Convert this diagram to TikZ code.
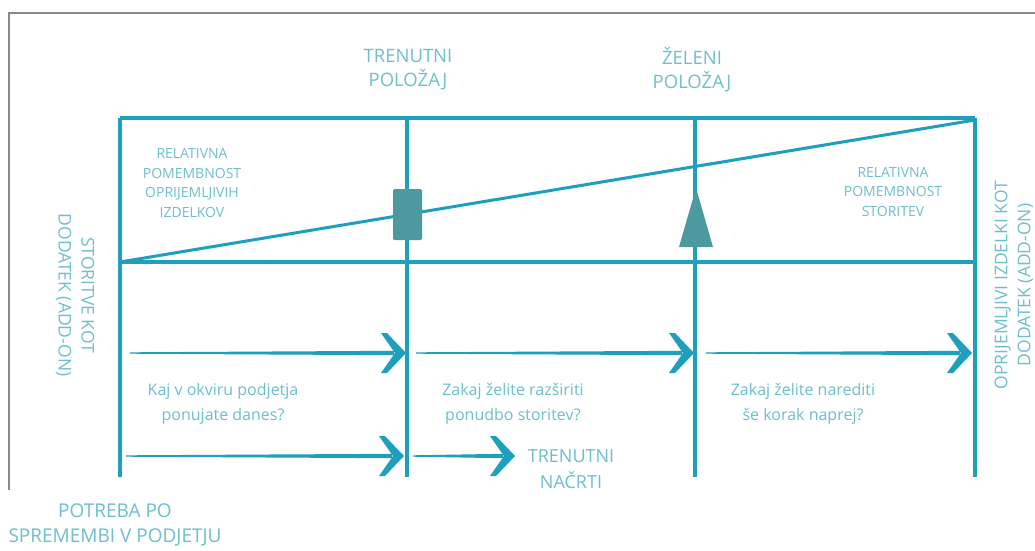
\documentclass[tikz,border=0pt]{standalone}
\usepackage{fontspec}
\setmainfont{Open Sans}
\usetikzlibrary{calc}
\definecolor{gridblue}{HTML}{1E9FBB}
\definecolor{labelteal}{HTML}{6DBFCC}
\definecolor{markerteal}{HTML}{4C9A9D}
\definecolor{framegray}{HTML}{888888}
\tikzset{
  gridline/.style={draw=gridblue, line width=3.5pt},
  slope/.style={draw=gridblue, line width=3pt},
  headlabel/.style={text=labelteal, font=\fontsize{18.5}{24}\selectfont, align=center},
  smalllabel/.style={text=labelteal, font=\fontsize{14}{19.5}\selectfont, align=center},
  sidelabel/.style={text=labelteal, font=\fontsize{17.5}{23}\selectfont, align=center},
  question/.style={text=labelteal, font=\fontsize{16}{25}\selectfont, align=center},
  marker/.style={fill=markerteal, draw=none},
}
% tapered shaft and chevron head, from a tail coordinate to a tip coordinate
\newcommand{\taparrow}[2]{%
  \fill[gridblue] ($(#1)+(0,-0.7)$) -- ($(#2)+(-12,-2.2)$) -- ($(#2)+(-12,2.2)$) -- ($(#1)+(0,0.7)$) -- cycle;
  \fill[gridblue] (#2) -- ++(-19,-20) -- ++(-6,0) -- ($(#2)+(-11,0)$) -- ++(-14,20) -- ++(6,0) -- cycle;
}
\begin{document}
\begin{tikzpicture}[x=1pt, y=-1pt]
\useasboundingbox (0,0) rectangle (1035,550);
\fill[white] (0,0) rectangle (1035,550);
% outer frame
\draw[framegray, line width=2.5pt] (9,490) -- (9,13) -- (1035,13);

% grid
\coordinate (tl) at (120,118);
\coordinate (tr) at (975,118);
\coordinate (ml) at (120,262);
\coordinate (mr) at (975,262);
\coordinate (c1t) at (407,118);
\coordinate (c2t) at (695,118);
\coordinate (c0b) at (120,477);
\coordinate (c1b) at (407,477);
\coordinate (c2b) at (695,477);
\coordinate (c3b) at (975,477);
\draw[gridline] (tl) -- (tr);
\draw[gridline] (ml) -- (mr);
\draw[gridline] (tl) -- (c0b);
\draw[gridline] (c1t) -- (c1b);
\draw[gridline] (c2t) -- (c2b);
\draw[gridline] (tr) -- (c3b);
\draw[slope] (ml) -- (975,120);

% markers on the slope
\fill[marker, rounded corners=1.5pt] (393,189) rectangle (422,240);
\fill[marker] (696,188) -- (713,247) -- (679,247) -- cycle;

% flow arrows
\coordinate (a1s) at (130,353); \coordinate (a1e) at (406,353);
\coordinate (a2s) at (416,353); \coordinate (a2e) at (694,353);
\coordinate (a3s) at (706,353); \coordinate (a3e) at (972,353);
\coordinate (b1s) at (126,456); \coordinate (b1e) at (404,456);
\coordinate (b2s) at (413,456); \coordinate (b2e) at (515,456);
\taparrow{a1s}{a1e}
\taparrow{a2s}{a2e}
\taparrow{a3s}{a3e}
\taparrow{b1s}{b1e}
\taparrow{b2s}{b2e}

% labels
\node[headlabel] (trenutni) at (408,70) {TRENUTNI\\POLOŽAJ};
\node[headlabel] (zeleni) at (692,70) {ŽELENI\\POLOŽAJ};
\node[smalllabel] (izdelki) at (192,183) {RELATIVNA\\POMEMBNOST\\OPRIJEMLJIVIH\\IZDELKOV};
\node[smalllabel] (storitve) at (893,192) {RELATIVNA\\POMEMBNOST\\STORITEV};
\node[sidelabel, rotate=-90] (leftside) at (75,295) {STORITVE KOT\\DODATEK (ADD-ON)};
\node[sidelabel, rotate=90] (rightside) at (1014,285) {OPRIJEMLJIVI IZDELKI KOT\\DODATEK (ADD-ON)};
\node[question] (q1) at (223,404) {Kaj v okviru podjetja\\ponujate danes?};
\node[question] (q2) at (513,404) {Zakaj želite razširiti\\ponudbo storitev?};
\node[question] (q3) at (803,404) {Zakaj želite narediti\\še korak naprej?};
\node[headlabel, font=\fontsize{18}{26}\selectfont] (nacrti) at (571,469) {TRENUTNI\\NAČRTI};
\node[headlabel, font=\fontsize{19}{25}\selectfont] (potreba) at (115,525) {POTREBA PO\\SPREMEMBI V PODJETJU};
\end{tikzpicture}
\end{document}
